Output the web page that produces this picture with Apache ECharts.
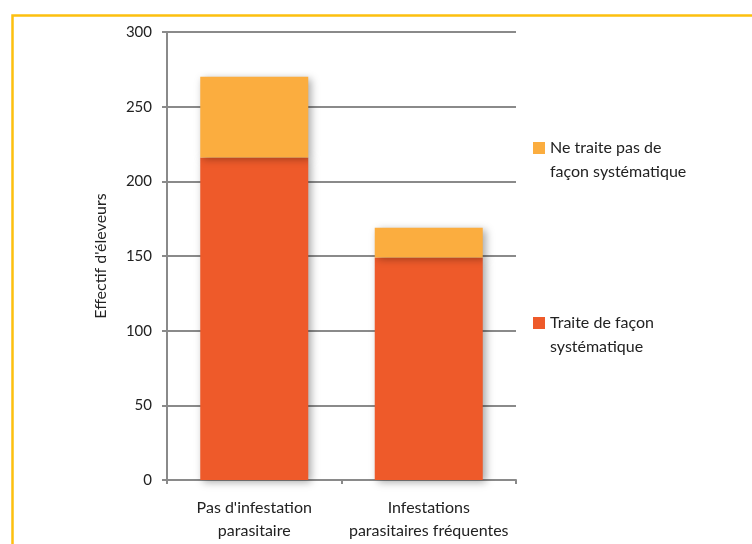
<!DOCTYPE html>
<html>
<head>
<meta charset="utf-8">
<script src="https://cdn.jsdelivr.net/npm/echarts@6/dist/echarts.min.js"></script>
<style>html,body{margin:0;padding:0;background:#fff;}#c{width:752px;height:544px;}</style>
</head>
<body>
<div id="c"></div>
<script>
const categories = ["Pas d'infestation\nparasitaire", "Infestations\nparasitaires fréquentes"];
const seriesNames = ["Traite de façon\nsystématique", "Ne traite pas de\nfaçon systématique"];
const traite = [216, 149];
const neTraitePas = [54, 20];
const yTicks = [0, 50, 100, 150, 200, 250, 300];

const FONT = 'Lato';
const chart = echarts.init(document.getElementById('c'), null, {renderer: 'canvas'});
const shadow = {shadowBlur: 8, shadowColor: 'rgba(0,0,0,0.35)', shadowOffsetX: 3, shadowOffsetY: 2};
chart.setOption({
  animation: false,
  backgroundColor: '#fff',
  textStyle: {fontFamily: FONT},
  graphic: [{
    type: 'rect', left: 10, top: 13, silent: true, z: 100,
    shape: {x: 0, y: 0, width: 800, height: 600},
    style: {fill: 'none', stroke: '#FDC00F', lineWidth: 2.5}
  }],
  grid: {left: 167, right: 236, top: 32, bottom: 64},
  legend: {
    orient: 'vertical', left: 528, top: 107,
    itemWidth: 12, itemHeight: 12, itemGap: 103,
    icon: 'rect',
    data: [seriesNames[1], seriesNames[0]],
    formatter: name => '\n' + name,
    textStyle: {fontFamily: FONT, fontSize: 16, color: '#222', lineHeight: 24}
  },
  xAxis: {
    type: 'category', data: categories,
    axisLine: {lineStyle: {color: '#8a8a8a', width: 2}},
    axisTick: {show: true, alignWithLabel: false, length: 4, lineStyle: {color: '#8a8a8a', width: 2}},
    axisLabel: {interval: 0, fontFamily: FONT, fontSize: 16, color: '#222', lineHeight: 23, margin: 16}
  },
  yAxis: {
    type: 'value', min: 0, max: 300, interval: 50,
    name: "Effectif d'éleveurs", nameLocation: 'middle', nameGap: 58,
    nameTextStyle: {fontFamily: FONT, fontSize: 16, color: '#222'},
    axisLine: {show: true, lineStyle: {color: '#8a8a8a', width: 2}},
    axisTick: {show: true, length: 5, lineStyle: {color: '#8a8a8a', width: 2}},
    axisLabel: {fontFamily: FONT, fontSize: 15, color: '#222', margin: 15,
      formatter: v => yTicks.includes(v) ? String(v) : ''},
    splitLine: {show: true, lineStyle: {color: '#8a8a8a', width: 2}}
  },
  series: [
    {name: seriesNames[0], type: 'bar', stack: 's', data: traite, barWidth: 108,
     itemStyle: Object.assign({color: '#EE5A2A'}, shadow)},
    {name: seriesNames[1], type: 'bar', stack: 's', data: neTraitePas, barWidth: 108,
     itemStyle: Object.assign({color: '#FBAD3F'}, shadow)}
  ]
});
</script>
</body>
</html>
